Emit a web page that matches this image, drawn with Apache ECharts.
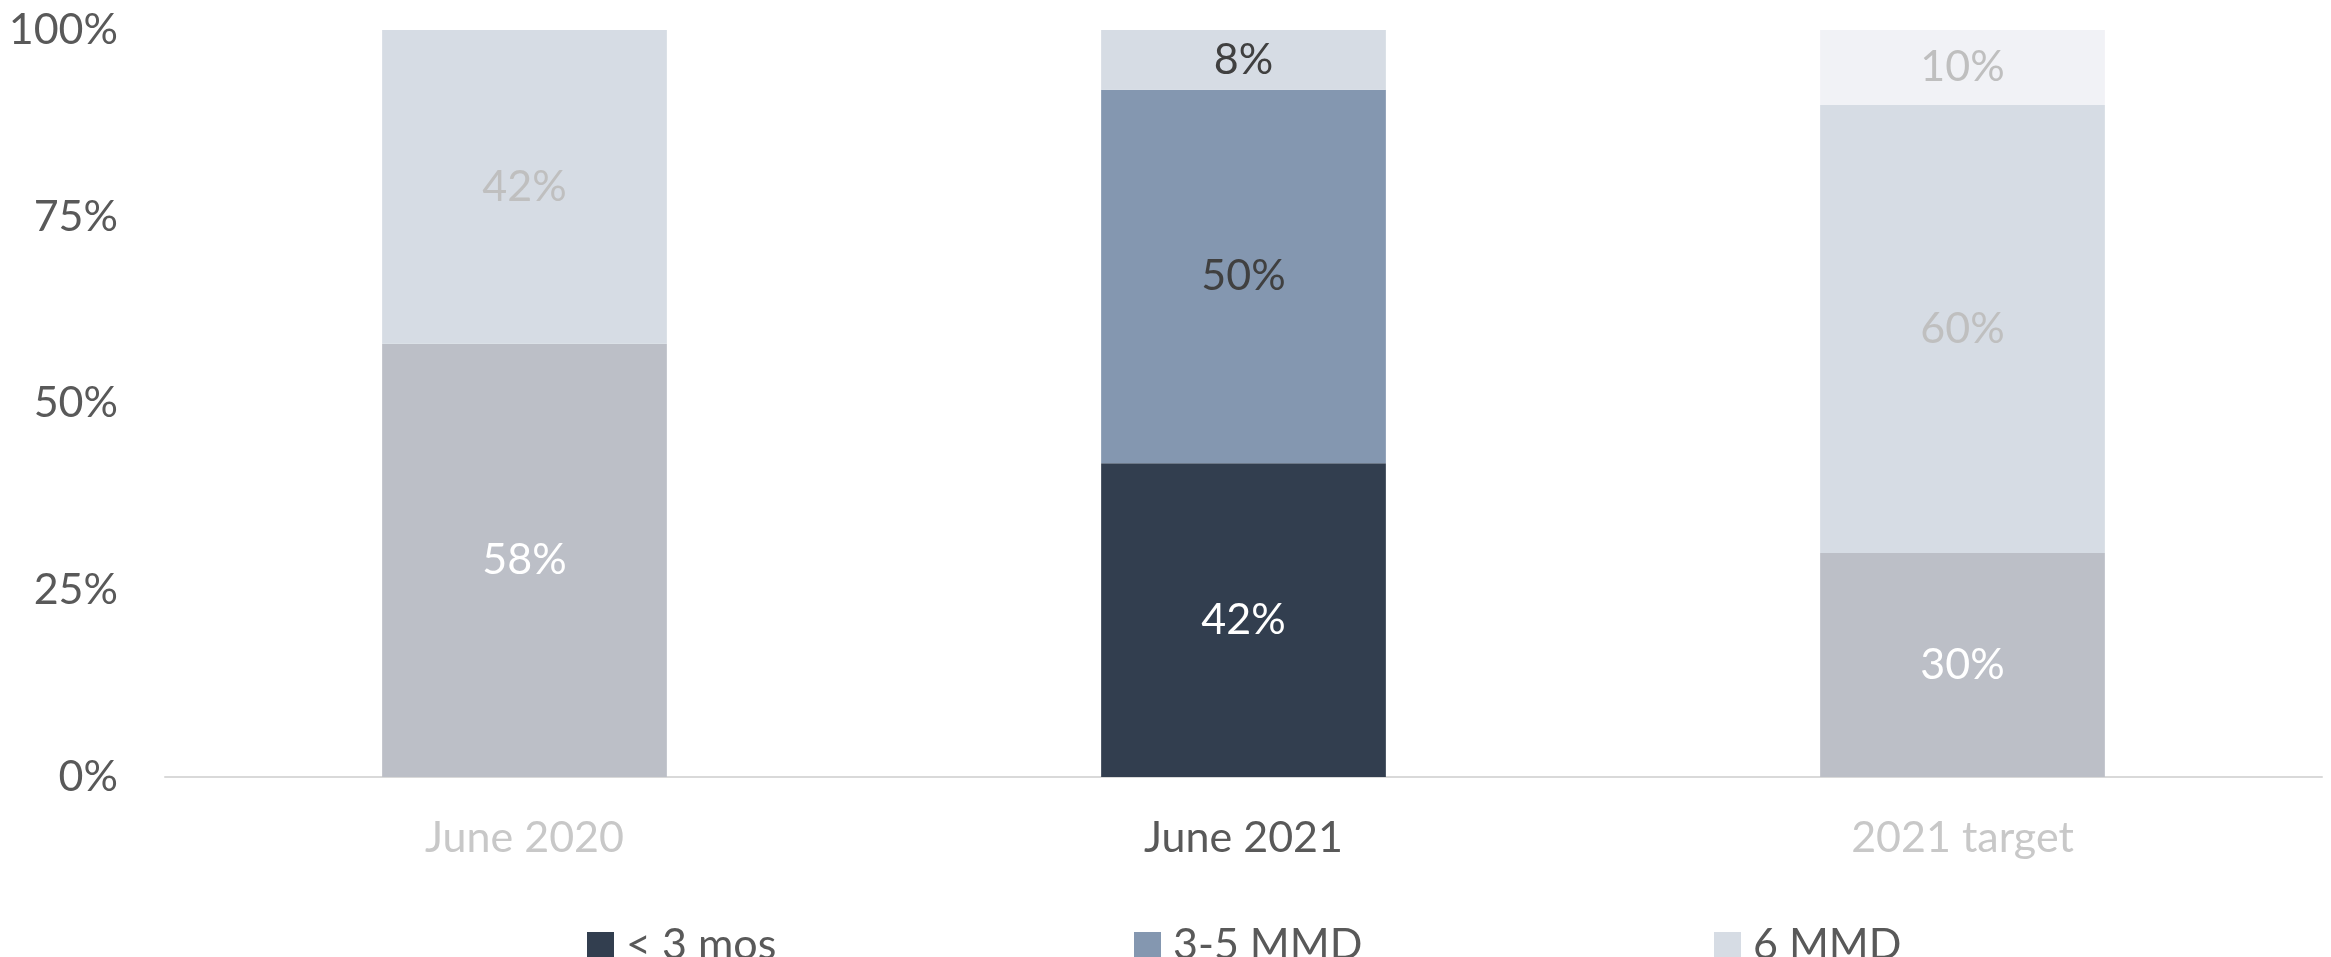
<!DOCTYPE html>
<html lang="en">
<head>
    <meta charset="UTF-8">
    <title>MMD share</title>
</head>
<script src="https://cdn.jsdelivr.net/npm/echarts@6/dist/echarts.min.js"></script>
<body style="margin:0">
    <div id="echarts" style="height: 957px;width:2331px"></div>
</body>
<script>
    // data
    const categories = ['June 2020', 'June 2021', '2021 target'];
    const lessThan3 = [58, 42, 30];
    const mmd35 = [42, 50, 60];
    const mmd6 = [null, 8, 10];
    const yTicks = [0, 25, 50, 75, 100];

    const focus = 1; // June 2021 is the only full-colour column
    const font = 'Lato';

    // [normal colour, faded colour, normal label, faded label]
    const looks = {
      '< 3 mos': ['#323E4F', '#BCBFC7', '#FFFFFF', '#FFFFFF'],
      '3-5 MMD': ['#8497B0', '#D6DCE4', '#404040', '#BFBFBF'],
      '6 MMD': ['#D6DCE4', '#F1F2F6', '#404040', '#BFBFBF'],
    };

    function makeSeries(name, values) {
      const look = looks[name];
      return {
        name: name,
        type: 'bar',
        stack: 'all',
        barWidth: '39.6%',
        itemStyle: { color: look[0] },
        label: {
          show: true,
          position: 'inside',
          fontFamily: font,
          fontSize: 43,
          formatter: p => p.value + '%',
        },
        data: values.map((v, i) => {
          const faded = i !== focus;
          return {
            value: v,
            itemStyle: { color: faded ? look[1] : look[0] },
            label: { color: faded ? look[3] : look[2] },
          };
        }),
      };
    }

    const legendStarts = [583, 1130, 1710];
    const names = Object.keys(looks);

    let myChart = window.echarts.init(document.getElementById('echarts'));

    let option = {
      animation: false,
      grid: { left: 165, right: 9, top: 30, bottom: 180 },
      legend: names.map((n, i) => ({
        data: [n],
        left: legendStarts[i] - 1,
        top: 919,
        icon: 'rect',
        itemWidth: 27,
        itemHeight: 27,
        textStyle: {
          fontFamily: font,
          fontSize: 43,
          color: '#595959',
          padding: [0, 0, 0, 7],
        },
      })),
      xAxis: {
        type: 'category',
        data: categories,
        axisTick: { show: false },
        axisLine: { lineStyle: { color: '#D9D9D9', width: 2 } },
        axisLabel: {
          margin: 40,
          fontFamily: font,
          fontSize: 43,
          color: (v, i) => (i === focus ? '#595959' : '#C8C8C8'),
        },
      },
      yAxis: {
        type: 'value',
        min: yTicks[0],
        max: yTicks[yTicks.length - 1],
        interval: yTicks[1] - yTicks[0],
        splitLine: { show: false },
        axisLine: { show: false },
        axisLabel: {
          margin: 47,
          fontFamily: font,
          fontSize: 43,
          color: '#595959',
          formatter: '{value}%',
        },
      },
      series: [
        makeSeries('< 3 mos', lessThan3),
        makeSeries('3-5 MMD', mmd35),
        makeSeries('6 MMD', mmd6),
      ],
    };
    myChart.setOption(option);
</script>
</html>
